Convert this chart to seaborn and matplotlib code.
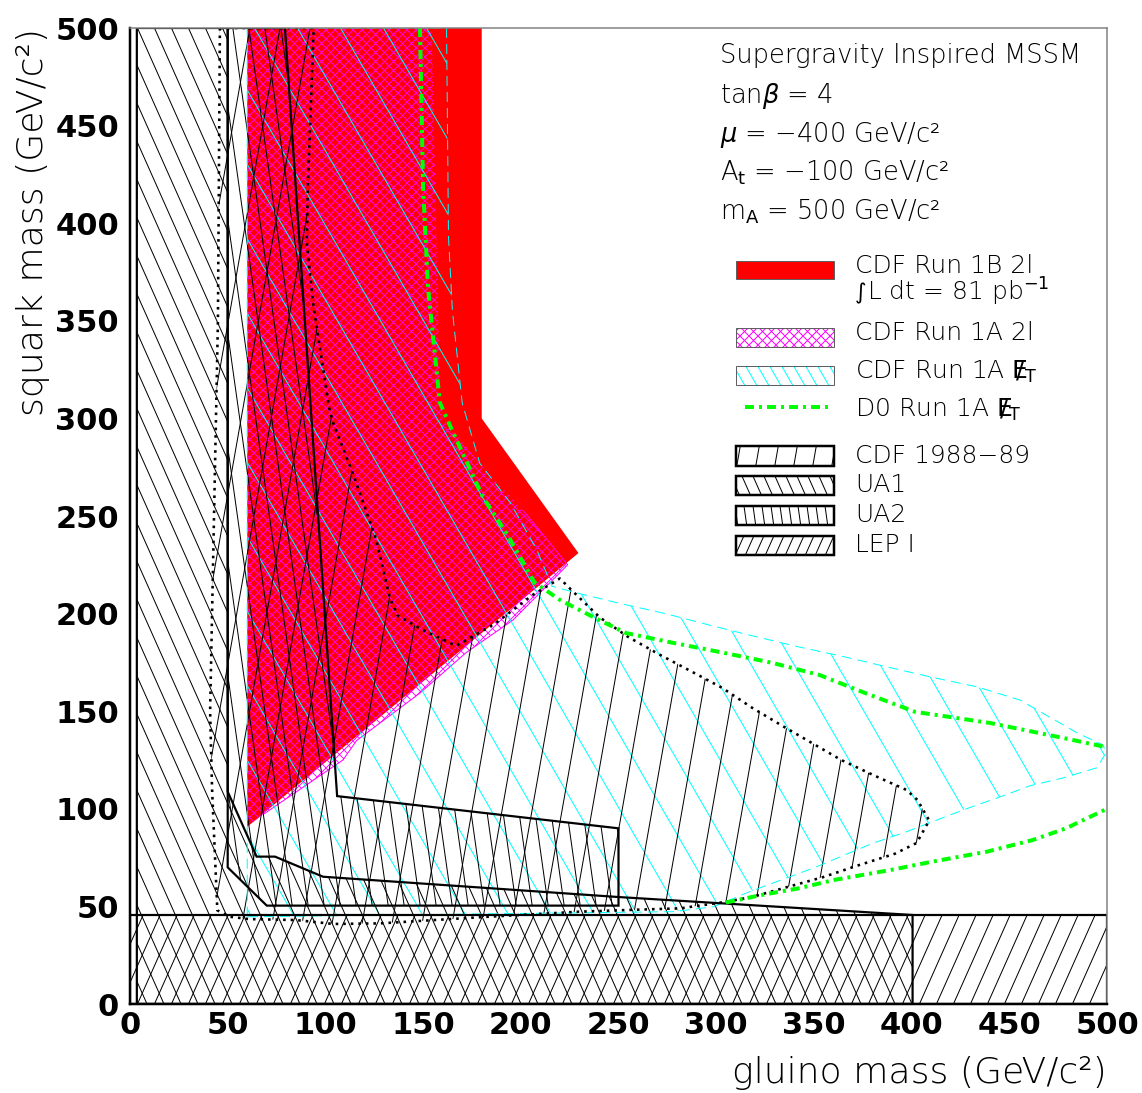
import numpy as np
import matplotlib
matplotlib.use("Agg")
import matplotlib.pyplot as plt
import seaborn as sns
from matplotlib.patches import Polygon, Rectangle
from matplotlib.collections import LineCollection

# ---------------- exclusion contours (gluino mass, squark mass) in GeV/c^2 ----------------
# CDF Run 1B dilepton (solid red)
cdf1b_gluino = [60, 60, 180, 180, 229.5]
cdf1b_squark = [90.8, 500, 500, 300, 231]

# CDF Run 1A dilepton (magenta cross hatch)
cdf1a2l_gluino = [60, 60, 154.4, 158.6, 160, 180.6, 201, 224, 196, 172, 148.4, 116, 109, 68]
cdf1a2l_squark = [90.8, 500, 500, 309, 300, 275, 253, 225, 196.7, 180, 159.3, 135, 125, 97]

# CDF Run 1A missing E_T (cyan hatch, dashed border)
cdf1amet_gluino = [60, 60, 162, 163, 165, 170, 179, 194.5, 208, 216, 228.6, 251.6, 274, 297,
                   319, 342, 365, 387, 409, 433, 455.5, 484.5, 498, 499.5, 494.7, 477.5, 460.6,
                   445, 428, 413, 397.5, 380, 349.6, 317, 298.5, 278]
cdf1amet_squark = [44.7, 500, 500, 393, 355, 308, 277, 257, 233, 214, 210.6, 205, 200, 194,
                   188.5, 183, 178, 172.8, 167.7, 162.6, 155.7, 139, 132.7, 128.6, 121, 115.8,
                   111.8, 106, 100, 94.3, 88.3, 82.3, 69.6, 57.5, 49.8, 47.3]

# D0 Run 1A missing E_T (green dash-dot), two branches leaving the plot at 500
d0_upper_gluino = [148.4, 150, 152.5, 158.6, 165.5, 180.6, 192.8, 207, 220, 240.5, 254, 278,
                   303.5, 329, 353, 377, 401.7, 440, 479, 500]
d0_upper_squark = [500, 418.5, 367, 308, 292.5, 259.7, 241, 216, 207, 196.5, 190, 185,
                   180, 174.7, 168.5, 159, 149.7, 144, 136, 131.5]
d0_lower_gluino = [305, 324, 343, 360, 389, 411, 438.4, 462, 479, 500]
d0_lower_squark = [52, 56, 59.4, 63.5, 68.6, 73, 78, 84, 90, 100]

# CDF 1988-89 (dotted border)
cdf88_gluino = [46, 94, 91, 90.5, 93.7, 102, 104, 114, 126, 133, 137, 150, 167, 187, 206, 220,
                226, 240.5, 255, 271, 288, 303, 318, 334, 349, 364, 381, 397.5, 403, 409,
                402.6, 391.5, 372.6, 354.7, 336, 319, 305.4, 281.5, 256, 230, 180, 128, 104,
                85, 61, 51, 44.7, 42, 41, 43, 45]
cdf88_squark = [500, 500, 418, 390, 359, 305, 297.6, 272, 238, 208, 199, 191.5, 183.5, 195,
                209.5, 218, 212, 198, 188, 179, 170, 162, 152, 142.4, 133.7, 125, 117, 109.6,
                104.5, 94, 82.5, 77, 71, 65, 59.8, 55, 52.4, 49, 48.2, 47.3, 44.5, 41.3, 41,
                43, 43.5, 44.7, 48, 110, 150, 250, 350]

# UA1
ua1_gluino = [3.5, 3.5, 50, 50, 64.8, 74.2, 98.8, 250, 400.5, 400.5]
ua1_squark = [0, 500, 500, 108.8, 75.5, 75.5, 65.2, 54.8, 45.6, 0]

# UA2
ua2_gluino = [50, 79.3, 106, 250, 250, 70, 50]
ua2_squark = [500, 500, 106.5, 90, 50.4, 50.4, 70]

# LEP I
lep_gluino = [0, 0, 500, 500]
lep_squark = [0, 45.6, 45.6, 0]

# ---------------- text ----------------
model_lines = ["Supergravity Inspired MSSM",
               r"tan$\beta$ = 4",
               "$\\mu$ = \u2212400 GeV/c\u00B2",
               "A$_\\mathrm{t}$ = \u2212100 GeV/c\u00B2",
               "m$_\\mathrm{A}$ = 500 GeV/c\u00B2"]
MET = r"$\mathrm{E}\!\!\!/_{\mathrm{T}}$"
INTEGRAL = "\u222B"
legend_labels = ["CDF Run 1B 2l", "L dt = 81 pb$^{-1}$", "CDF Run 1A 2l",
                 "CDF Run 1A " + MET, "D0 Run 1A " + MET,
                 "CDF 1988\u221289", "UA1", "UA2", "LEP I"]
tick_values = list(range(0, 501, 50))
x_title = "gluino mass (GeV/c\u00B2)"
y_title = "squark mass (GeV/c\u00B2)"

# ---------------- style ----------------
sns.set_theme(style="white", rc={"text.color": "black", "axes.labelcolor": "black",
                                 "xtick.color": "black", "ytick.color": "black"})
plt.rcParams["font.family"] = ["DejaVu Sans"]
plt.rcParams["mathtext.fontset"] = "dejavusans"

FIG_W, FIG_H, DPI = 1142, 1093, 100
AX_L, AX_T, AX_W, AX_H = 130, 28, 977, 976
PT = 72.0 / DPI  # points per pixel
TEXT_WEIGHT = "light"

fig = plt.figure(figsize=(FIG_W / DPI, FIG_H / DPI), dpi=DPI)
fig.patch.set_facecolor("white")
ax = fig.add_axes([AX_L / FIG_W, 1 - (AX_T + AX_H) / FIG_H, AX_W / FIG_W, AX_H / FIG_H])
ax.set_facecolor("white")

RED = "#ff0000"
MAGENTA = "#ff00ff"
CYAN = "#00ffff"
GREEN = "#00ff00"


def fx(px):
    return (px - AX_L) / AX_W


def fy(py):
    return (AX_T + AX_H - py) / AX_H


def hatch(xs, ys, angle, spacing, color, lw_px=1.0, z=3, transform=None, phase=0.0):
    """Fill a polygon with parallel lines at `angle` degrees, `spacing` pixels apart."""
    tr = ax.transData if transform is None else transform
    clip = Polygon(np.column_stack([xs, ys]), closed=True, facecolor="none",
                   edgecolor="none", transform=tr)
    ax.add_patch(clip)
    run = AX_H / np.tan(np.radians(angle))
    lo = min(0.0, -run) - 2 * spacing + phase
    hi = AX_W + max(0.0, -run) + 2 * spacing
    segs = [[(x0 / AX_W, 0.0), ((x0 + run) / AX_W, 1.0)] for x0 in np.arange(lo, hi, spacing)]
    lc = LineCollection(segs, colors=color, linewidths=lw_px * PT, transform=ax.transAxes,
                        zorder=z)
    lc.set_clip_path(clip)
    ax.add_collection(lc, autolim=False)


def outline(xs, ys, color, lw_px, ls="-", z=5, closed=True):
    px = list(xs) + ([xs[0]] if closed else [])
    py = list(ys) + ([ys[0]] if closed else [])
    sns.lineplot(x=px, y=py, sort=False, estimator=None,
                 ax=ax, color=color, linewidth=lw_px * PT, legend=False, zorder=z)
    line = ax.lines[-1]
    line.set_linestyle(ls)
    line.set_dash_capstyle("butt")
    line.set_solid_joinstyle("miter")
    return line


# ---------------- regions ----------------
ax.add_patch(Polygon(np.column_stack([cdf1b_gluino, cdf1b_squark]), closed=True,
                     facecolor=RED, edgecolor="none", zorder=1))

hatch(cdf1a2l_gluino, cdf1a2l_squark, 45, 9, MAGENTA, 0.9, z=2)
hatch(cdf1a2l_gluino, cdf1a2l_squark, 135, 9, MAGENTA, 0.9, z=2)
outline(cdf1a2l_gluino[6:], cdf1a2l_squark[6:], MAGENTA, 1.0, z=2, closed=False)

hatch(cdf1amet_gluino, cdf1amet_squark, 120, 43, CYAN, 1.0, z=3)
outline(cdf1amet_gluino, cdf1amet_squark, CYAN, 1.0, ls=(0, (10, 6)), z=4)

hatch(ua1_gluino, ua1_squark, 114, 17, "black", 1.0, z=3)
hatch(lep_gluino, lep_squark, 66, 17, "black", 1.0, z=3)
hatch(ua2_gluino, ua2_squark, 98, 16, "black", 1.0, z=3)
hatch(cdf88_gluino, cdf88_squark, 80, 30, "black", 1.0, z=3)

outline(cdf88_gluino, cdf88_squark, "black", 2.6, ls=(0, (1, 1.9)), z=5)
outline(ua1_gluino, ua1_squark, "black", 2.2, z=5)
outline(ua2_gluino, ua2_squark, "black", 2.2, z=5)
outline(lep_gluino, lep_squark, "black", 2.2, z=5)

GREEN_DASH = (0, (2.25, 1.25, 0.75, 1.25))
for gx, gy in [(d0_upper_gluino, d0_upper_squark), (d0_lower_gluino, d0_lower_squark)]:
    sns.lineplot(x=gx, y=gy, sort=False, estimator=None, ax=ax, color=GREEN,
                 linewidth=4 * PT, legend=False, zorder=6)
    ax.lines[-1].set_linestyle(GREEN_DASH)
    ax.lines[-1].set_dash_capstyle("butt")

# ---------------- axes ----------------
ax.set_xlim(0, 500)
ax.set_ylim(0, 500)
ax.set_xticks(tick_values)
ax.set_yticks(tick_values)
ax.set_xticklabels([str(v) for v in tick_values])
ax.set_yticklabels([str(v) for v in tick_values])
ax.set_xticks(range(0, 501, 10), minor=True)
ax.set_yticks(range(0, 501, 10), minor=True)
ax.tick_params(which="both", direction="in", top=False, right=False, color="black",
               width=1.5 * PT)
ax.tick_params(which="major", length=18 * PT)
ax.tick_params(which="minor", length=8 * PT)
ax.tick_params(axis="x", which="major", pad=5)
ax.tick_params(axis="y", which="major", pad=8)
for lab in ax.get_xticklabels() + ax.get_yticklabels():
    lab.set_fontfamily("DejaVu Sans")
    lab.set_fontweight("bold")
    lab.set_fontsize(22)

for side in ["left", "bottom"]:
    ax.spines[side].set_color("black")
    ax.spines[side].set_linewidth(2.5 * PT)
for side in ["top", "right"]:
    ax.spines[side].set_color("#808080")
    ax.spines[side].set_linewidth(1.5 * PT)
for sp in ax.spines.values():
    sp.set_zorder(8)
ax.grid(False)

ax.set_xlabel(x_title, fontsize=26, loc="right", fontweight=TEXT_WEIGHT)
ax.xaxis.set_label_coords(1.0, fy(1073))
ax.xaxis.label.set_va("center")
ax.set_ylabel(y_title, fontsize=26, loc="top", fontweight=TEXT_WEIGHT)
ax.yaxis.set_label_coords(fx(33), 1.0)
ax.yaxis.label.set_va("center")

# ---------------- legend block ----------------
HDR_Y = [56, 96, 135, 173, 212]
for txt, py in zip(model_lines, HDR_Y):
    ax.text(fx(720), fy(py), txt, transform=ax.transAxes, fontsize=18.5, va="center",
            ha="left", zorder=9, fontweight=TEXT_WEIGHT)

BX0, BX1 = fx(736), fx(834)
TX = fx(855)


def legend_box(top, bot, face="white", edge="black", lw_px=1.0, hatches=()):
    x = [BX0, BX1, BX1, BX0]
    y = [fy(top), fy(top), fy(bot), fy(bot)]
    ax.add_patch(Rectangle((BX0, fy(bot)), BX1 - BX0, fy(top) - fy(bot),
                           transform=ax.transAxes, facecolor=face, edgecolor="none",
                           zorder=7))
    for ang, sp, col in hatches:
        hatch(x, y, ang, sp, col, 1.0, z=8, transform=ax.transAxes)
    ax.add_patch(Rectangle((BX0, fy(bot)), BX1 - BX0, fy(top) - fy(bot),
                           transform=ax.transAxes, facecolor="none", edgecolor=edge,
                           linewidth=lw_px * PT, zorder=9))


legend_box(261, 279, face=RED, edge="#606060", lw_px=1.0)
legend_box(328, 347, edge="#606060", lw_px=1.0,
           hatches=[(45, 9, MAGENTA), (135, 9, MAGENTA)])
legend_box(366, 385, edge="#606060", lw_px=1.0, hatches=[(120, 12, CYAN)])
ax.plot([fx(745), fx(828)], [fy(407), fy(407)], transform=ax.transAxes, color=GREEN,
        linewidth=4 * PT, linestyle=GREEN_DASH, dash_capstyle="butt", zorder=9)
legend_box(446, 466, lw_px=2.5, hatches=[(80, 19, "black")])
legend_box(476, 495, lw_px=2.5, hatches=[(114, 11, "black")])
legend_box(506, 525, lw_px=2.5, hatches=[(98, 9, "black")])
legend_box(536, 555, lw_px=2.5, hatches=[(66, 10, "black")])

LEG_Y = [266, 292, 333, 372, 410, 456, 485, 515, 545]
for i, (txt, py) in enumerate(zip(legend_labels, LEG_Y)):
    x0 = TX
    if i == 1:
        # luminosity line starts with an integral sign
        ax.text(TX, fy(py + 1), INTEGRAL, transform=ax.transAxes, fontsize=16,
                va="center", ha="left", zorder=9, fontweight="normal")
        x0 = fx(867)
    ax.text(x0, fy(py), txt, transform=ax.transAxes, fontsize=18, va="center", ha="left",
            zorder=9, fontweight=TEXT_WEIGHT)

fig.savefig("out.png", dpi=DPI, facecolor="white")
